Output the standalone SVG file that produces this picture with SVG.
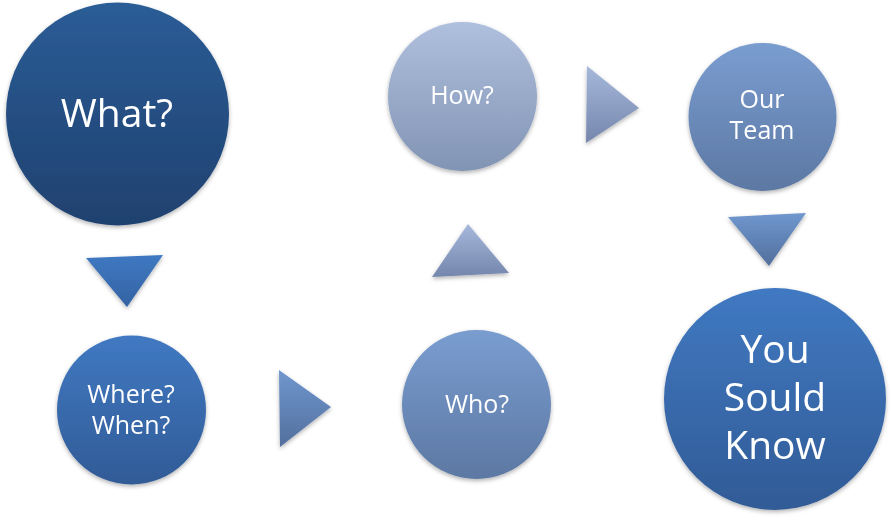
<svg xmlns="http://www.w3.org/2000/svg" width="893" height="521" viewBox="0 0 893 521">
<defs>
<linearGradient id="gWhat" x1="0" y1="0" x2="0" y2="1"><stop offset="0" stop-color="#2b5c96"/><stop offset="1" stop-color="#1f416f"/></linearGradient>
<linearGradient id="gMid" x1="0" y1="0" x2="0" y2="1"><stop offset="0" stop-color="#4079c2"/><stop offset="1" stop-color="#315b96"/></linearGradient>
<linearGradient id="gLight" x1="0" y1="0" x2="0" y2="1"><stop offset="0" stop-color="#7a9dd0"/><stop offset="1" stop-color="#5c78a3"/></linearGradient>
<linearGradient id="gPale" x1="0" y1="0" x2="0" y2="1"><stop offset="0" stop-color="#afc0de"/><stop offset="1" stop-color="#8294b4"/></linearGradient>
<linearGradient id="tMid" x1="0" y1="0" x2="0" y2="1"><stop offset="0" stop-color="#3f79c2"/><stop offset="1" stop-color="#3362a2"/></linearGradient>
<linearGradient id="tLight" x1="0" y1="0" x2="0" y2="1"><stop offset="0" stop-color="#7097cf"/><stop offset="1" stop-color="#526f9c"/></linearGradient>
<linearGradient id="tPale" x1="0" y1="0" x2="0" y2="1"><stop offset="0" stop-color="#a6b8da"/><stop offset="1" stop-color="#7486ac"/></linearGradient>
<filter id="sh" x="-20%" y="-20%" width="140%" height="140%"><feDropShadow dx="0" dy="2" stdDeviation="2" flood-color="#000" flood-opacity="0.3"/></filter>
</defs>
<style>
text{font-family:"Open Sans","Liberation Sans",sans-serif;fill:#fff;text-anchor:middle}
.s{font-size:25px}
.b{font-size:39px}
.node{filter:url(#sh)}
</style>
<g id="connectors">
<polygon points="86,258 163,255 127,307" fill="url(#tMid)" filter="url(#sh)"/>
<polygon points="279,370 280,447 331,407" fill="url(#tLight)" filter="url(#sh)"/>
<polygon points="468,224 432,277 509,273" fill="url(#tPale)" filter="url(#sh)"/>
<polygon points="587,66 586,143 639,108" fill="url(#tPale)" filter="url(#sh)"/>
<polygon points="728,217 806,213 769,266" fill="url(#tLight)" filter="url(#sh)"/>
</g>
<g id="what" class="node"><circle cx="117.5" cy="114" r="111.5" fill="url(#gWhat)"/><text class="b" x="117" y="127">What?</text></g>
<g id="where" class="node"><circle cx="131.5" cy="410" r="74.5" fill="url(#gMid)"/><text class="s" x="131" y="403">Where?</text><text class="s" x="131" y="434">When?</text></g>
<g id="who" class="node"><circle cx="476.5" cy="404.5" r="74.5" fill="url(#gLight)"/><text class="s" x="477" y="413">Who?</text></g>
<g id="how" class="node"><circle cx="462.5" cy="96.5" r="74.5" fill="url(#gPale)"/><text class="s" x="462" y="104">How?</text></g>
<g id="team" class="node"><circle cx="762.5" cy="117" r="74" fill="url(#gLight)"/><text class="s" x="762" y="108">Our</text><text class="s" x="762" y="139">Team</text></g>
<g id="know" class="node"><circle cx="775" cy="399" r="111" fill="url(#gMid)"/><text class="b" x="775" y="363">You</text><text class="b" x="775" y="411">Sould</text><text class="b" x="775" y="459">Know</text></g>
</svg>
